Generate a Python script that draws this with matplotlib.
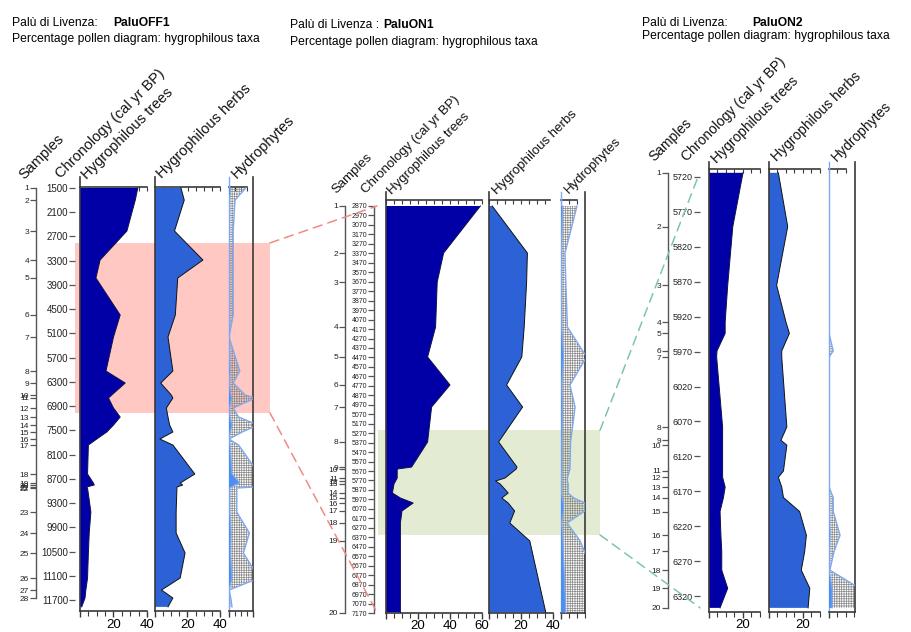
import matplotlib
matplotlib.use("Agg")
import matplotlib.pyplot as plt
import matplotlib.transforms as mtransforms
from matplotlib.patches import Rectangle, ConnectionPatch
from matplotlib.ticker import FixedLocator, MultipleLocator, FuncFormatter, NullFormatter
import numpy as np

plt.rcParams['font.family'] = ['Liberation Sans', 'DejaVu Sans']
plt.rcParams['hatch.linewidth'] = 0.5

# ---------------- data ----------------
# PaluOFF1
off1_chron = [1500, 2100, 2700, 3300, 3900, 4500, 5100, 5700, 6300, 6900,
              7500, 8100, 8700, 9300, 9900, 10500, 11100, 11700]
off1_samples = [1500, 1800, 2565, 3283, 3728, 4644, 5189, 6031, 6328, 6625,
                6699, 6947, 7170, 7368, 7541, 7715, 7863, 8581, 8804, 8853,
                8903, 8928, 9522, 10042, 10537, 11156, 11453, 11651]
off1_ages = off1_samples + [11870]
off1_trees = [34.5, 33, 28, 12, 9.5, 24, 20, 15.5, 27, 19, 17, 20, 24, 20, 16,
              10, 5, 4.5, 8, 8.5, 4, 4.5, 6.5, 5.5, 5, 4.5, 3.5, 3, 1]
off1_herbs = [16, 18, 12, 29.5, 14, 12.5, 8, 11, 3.5, 10, 11, 7, 8, 9, 11,
              3, 11, 24.5, 15.5, 17, 13.5, 13.5, 13, 13, 18.5, 15.5, 4, 11, 8]
off1_hydro = [1.4, 0.5, 0.35, 0.35, 0.35, 0.35, 0, 0.9, 0.35, 1.35, 2.2, 0.35,
              0.8, 2.4, 1.1, 0, 0.8, 2.5, 9, 5, 2, 0.65, 0.65, 1.7, 1.2, 2.5,
              0, 0.15, 0.25]

# PaluON1
on1_chron = list(range(2870, 7171, 100))
on1_samples = [2870, 3367, 3673, 4148, 4465, 4761, 4994, 5363, 5628, 5649,
               5744, 5776, 5807, 5902, 5955, 6008, 6092, 6219, 6409, 7165]
on1_trees = [59, 36, 32, 31, 26, 40, 28.5, 26, 16, 7, 7, 6, 5, 4, 9, 17, 10,
             9, 9, 9]
on1_herbs = [2, 24, 23.5, 22, 20.5, 11, 21, 6, 17.5, 17, 10, 4, 7, 12, 8, 12,
             16, 13, 25.5, 35.5]
on1_hydro = [1.0, 0.25, 0.3, 0.4, 1.6, 0.56, 0.88, 0.6, 0.56, 0.56, 0.4, 0.4,
             0.45, 0.44, 0.8, 1.5, 1.5, 0.38, 1.2, 3.0]

# PaluON2
on2_chron = [5720, 5770, 5820, 5870, 5920, 5970, 6020, 6070, 6120, 6170,
             6220, 6270, 6320]
on2_samples = [5714, 5791, 5875, 5928, 5944, 5969, 5978, 6078, 6097, 6104,
               6141, 6150, 6164, 6179, 6199, 6233, 6256, 6283, 6309, 6337]
on2_trees = [20, 14, 11, 9.5, 9.5, 4.7, 4.5, 8, 8, 8, 8, 8, 9.5, 8.5, 6.5, 7,
             7.5, 7.5, 11, 6.5]
on2_herbs = [5.5, 11, 4.5, 10, 12, 7.5, 7.5, 10.5, 7, 10.5, 8.5, 5.5, 7.5,
             8.5, 18, 22, 21, 19, 24, 23]
on2_hydro = [0, 0, 0, 0, 0, 0.25, 0, 0, 0, 0, 0, 0, 0, 0.25, 0.25, 0.65, 0.3,
             0.05, 1.8, 1.8]

exag = 10
col_labels = ['Samples', 'Chronology (cal yr BP)', 'Hygrophilous trees',
              'Hygrophilous herbs', 'Hydrophytes']

# zones: (start age, end age)
off1_zone = (2860, 7070)
on1_zone = (5240, 6345)

TREE_C = '#0000a6'
HERB_C = '#2c62d6'
HYD_C = '#4c8ff0'
HYD_LINE = '#7fa9f0'
AX_C = '#3a3a3a'

W, H = 912, 632
fig = plt.figure(figsize=(W / 100, H / 100), dpi=100)

# layout of each diagram, in pixels
panels = [
    dict(site='PaluOFF1', sep='Palù di Livenza:', head=(12, 113, 26, 42),
         ref=((1500, 188), (11700, 600)), ytop=177, yaxis=187, ybot=611,
         samp_x=36, chron_x=75, chron_spine=False, samp_fs=6, chron_fs=7,
         trees=(80, 147, 40, 40), herbs=(155, 220, 40, 40), hydro=(229, 253, 20, 15),
         lab_pos=[(20, 178), (57, 177), (83, 178), (158, 177), (233, 177)], lab_fs=10.5,
         xpad=1, chron=off1_chron, samples=off1_samples, ages=off1_ages,
         tv=off1_trees, hv=off1_herbs, dv=off1_hydro),
    dict(site='PaluON1', sep='Palù di Livenza :', head=(290, 383, 28, 45),
         ref=((2870, 206), (7170, 613)), ytop=192, yaxis=200, ybot=613,
         samp_x=345, chron_x=374, chron_spine=True, samp_fs=6, chron_fs=5,
         trees=(386, 482, 60, 60), herbs=(489, 553, 40, 38), hydro=(561, 585, 15, 10),
         lab_pos=[(332, 192), (362, 192), (388, 193), (493, 193), (565, 192)], lab_fs=9.5,
         xpad=0.2, chron=on1_chron, samples=on1_samples, ages=on1_samples,
         tv=on1_trees, hv=on1_herbs, dv=on1_hydro),
    dict(site='PaluON2', sep='Palù di Livenza:', head=(642, 752, 26, 39),
         ref=((5720, 177), (6320, 596)), ytop=162, yaxis=169, ybot=612,
         samp_x=668, chron_x=700, chron_spine=False, samp_fs=6, chron_fs=6.5,
         trees=(709, 760, 30, 30), herbs=(769, 820, 30, 30), hydro=(829, 855, 15.3, 10),
         lab_pos=[(650, 160), (683, 160), (713, 162), (773, 160), (833, 160)], lab_fs=10,
         xpad=0.5, chron=on2_chron, samples=on2_samples, ages=on2_samples,
         tv=on2_trees, hv=on2_herbs, dv=on2_hydro),
]


def age_at(y, ref):
    (a0, y0), (a1, y1) = ref
    return a0 + (y - y0) * (a1 - a0) / (y1 - y0)


def make_ax(x0, x1, p):
    ax = fig.add_axes([x0 / W, 1 - p['ybot'] / H, (x1 - x0) / W,
                       (p['ybot'] - p['ytop']) / H])
    ax.set_facecolor('none')
    ax.set_ylim(age_at(p['ybot'], p['ref']), age_at(p['ytop'], p['ref']))
    return ax


def label_axis(p, x, ticks, labels, fs, spine, bounds):
    ax = make_ax(x, x + 1, p)
    ax.set_xticks([])
    for s in ['top', 'right', 'bottom']:
        ax.spines[s].set_visible(False)
    ax.spines['left'].set_visible(spine)
    ax.spines['left'].set_color('#555555')
    ax.spines['left'].set_linewidth(1)
    ax.spines['left'].set_bounds(*bounds)
    ax.set_yticks(ticks, labels=labels)
    ax.tick_params(axis='y', length=4, width=0.9, pad=1, labelsize=fs,
                   color='#555555', labelcolor='#222222')
    return ax


def pct_axis(p, spec, minor=5):
    x0, x1, xmax, top_max = spec
    ax = make_ax(x0, x1, p)
    ax.set_xlim(0, xmax)
    ax.spines['top'].set_visible(False)
    ax.spines['right'].set_visible(False)
    for s in ['left', 'right', 'bottom']:
        ax.spines[s].set_color(AX_C)
        ax.spines[s].set_linewidth(1.2)
    ax.yaxis.set_visible(False)
    ax.xaxis.set_major_locator(FixedLocator([v for v in (0, 20, 40, 60) if v <= xmax]))
    ax.xaxis.set_major_formatter(FuncFormatter(lambda v, pos: '' if v == 0 else f'{v:g}'))
    ax.xaxis.set_minor_locator(MultipleLocator(minor))
    ax.tick_params(axis='x', which='major', length=4.5, width=1, labelsize=9.5,
                   pad=p['xpad'], color=AX_C)
    ax.tick_params(axis='x', which='minor', length=3.5, width=0.8, color=AX_C)
    frac = (p['ybot'] - p['yaxis']) / (p['ybot'] - p['ytop'])
    sec = ax.secondary_xaxis(frac)
    sec.spines['top'].set_bounds(0, top_max)
    sec.spines['top'].set_color(AX_C)
    sec.spines['top'].set_linewidth(1.2)
    sec.xaxis.set_major_locator(FixedLocator(np.arange(0, top_max + 0.01, minor)))
    sec.xaxis.set_major_formatter(NullFormatter())
    sec.tick_params(axis='x', which='both', direction='in', length=3, width=0.8,
                    color=AX_C)
    return ax


axes_trees = []
for p in panels:
    # header
    hx, bx, y1, y2 = p['head']
    fig.text(hx / W, 1 - y1 / H, p['sep'], fontsize=8.7, va='baseline')
    fig.text(bx / W, 1 - y1 / H, p['site'], fontsize=8.7, fontweight='bold', va='baseline')
    fig.text(hx / W, 1 - y2 / H, 'Percentage pollen diagram: hygrophilous taxa',
             fontsize=8.7, va='baseline')
    for txt, (lx, ly) in zip(col_labels, p['lab_pos']):
        fig.text((lx + 6) / W, 1 - (ly + 4) / H, txt, rotation=45, rotation_mode='anchor',
                 ha='left', va='bottom', fontsize=p['lab_fs'], color='#111111')

    samples = p['samples']
    label_axis(p, p['samp_x'], samples, [str(i + 1) for i in range(len(samples))],
               p['samp_fs'], True, (samples[0], samples[-1]))
    label_axis(p, p['chron_x'], p['chron'], [str(c) for c in p['chron']],
               p['chron_fs'], p['chron_spine'], (p['chron'][0], p['chron'][-1]))

    ages = p['ages']
    ax_t = pct_axis(p, p['trees'])
    ax_t.fill_betweenx(ages, 0, p['tv'], facecolor=TREE_C, lw=0, zorder=2)
    ax_t.plot(p['tv'], ages, color='#10104a', lw=0.7, zorder=3)
    axes_trees.append(ax_t)

    ax_h = pct_axis(p, p['herbs'])
    ax_h.fill_betweenx(ages, 0, p['hv'], facecolor=HERB_C, lw=0, zorder=2)
    ax_h.plot(p['hv'], ages, color='#111111', lw=0.7, zorder=3)

    ax_d = pct_axis(p, p['hydro'])
    ax_d.xaxis.set_major_formatter(NullFormatter())
    ax_d.spines['right'].set_visible(True)
    ax_d.spines['left'].set_color(HYD_LINE)
    ax_d.spines['left'].set_linewidth(1)
    dv = np.asarray(p['dv'])
    ax_d.fill_betweenx(ages, 0, dv * exag, facecolor='none', edgecolor='#8a8a8a',
                       hatch='+++++++', lw=0, zorder=2)
    ax_d.plot(dv * exag, ages, color=HYD_LINE, lw=1, zorder=3)
    ax_d.fill_betweenx(ages, 0, dv, facecolor=HYD_C, lw=0, zorder=4)
    ax_d.plot(dv, ages, color=HYD_LINE, lw=0.8, zorder=5)

# zone bands and connecting lines
blend = [mtransforms.blended_transform_factory(fig.transFigure, a.transData)
         for a in axes_trees]
fig.add_artist(Rectangle((75 / W, off1_zone[0]), (270 - 75) / W,
                         off1_zone[1] - off1_zone[0], transform=blend[0],
                         facecolor='#ffc8c2', lw=0, zorder=-1))
fig.add_artist(Rectangle((378 / W, on1_zone[0]), (600 - 378) / W,
                         on1_zone[1] - on1_zone[0], transform=blend[1],
                         facecolor='#e3ecd3', lw=0, zorder=-1))

links = [
    (blend[0], (270 / W, off1_zone[0]), blend[1], (377 / W, on1_samples[0]), '#f08a84'),
    (blend[0], (270 / W, off1_zone[1]), blend[1], (377 / W, on1_samples[-1]), '#f08a84'),
    (blend[1], (600 / W, on1_zone[0]), blend[2], (698 / W, on2_chron[0]), '#7cc6aa'),
    (blend[1], (600 / W, on1_zone[1]), blend[2], (700 / W, on2_samples[-1]), '#7cc6aa'),
]
for ta, xa, tb, xb, c in links:
    con = ConnectionPatch(xyA=xa, coordsA=ta, xyB=xb, coordsB=tb, color=c,
                          lw=1.1, ls=(0, (6, 4)), zorder=5)
    fig.add_artist(con)

fig.savefig('out.png', dpi=100)
